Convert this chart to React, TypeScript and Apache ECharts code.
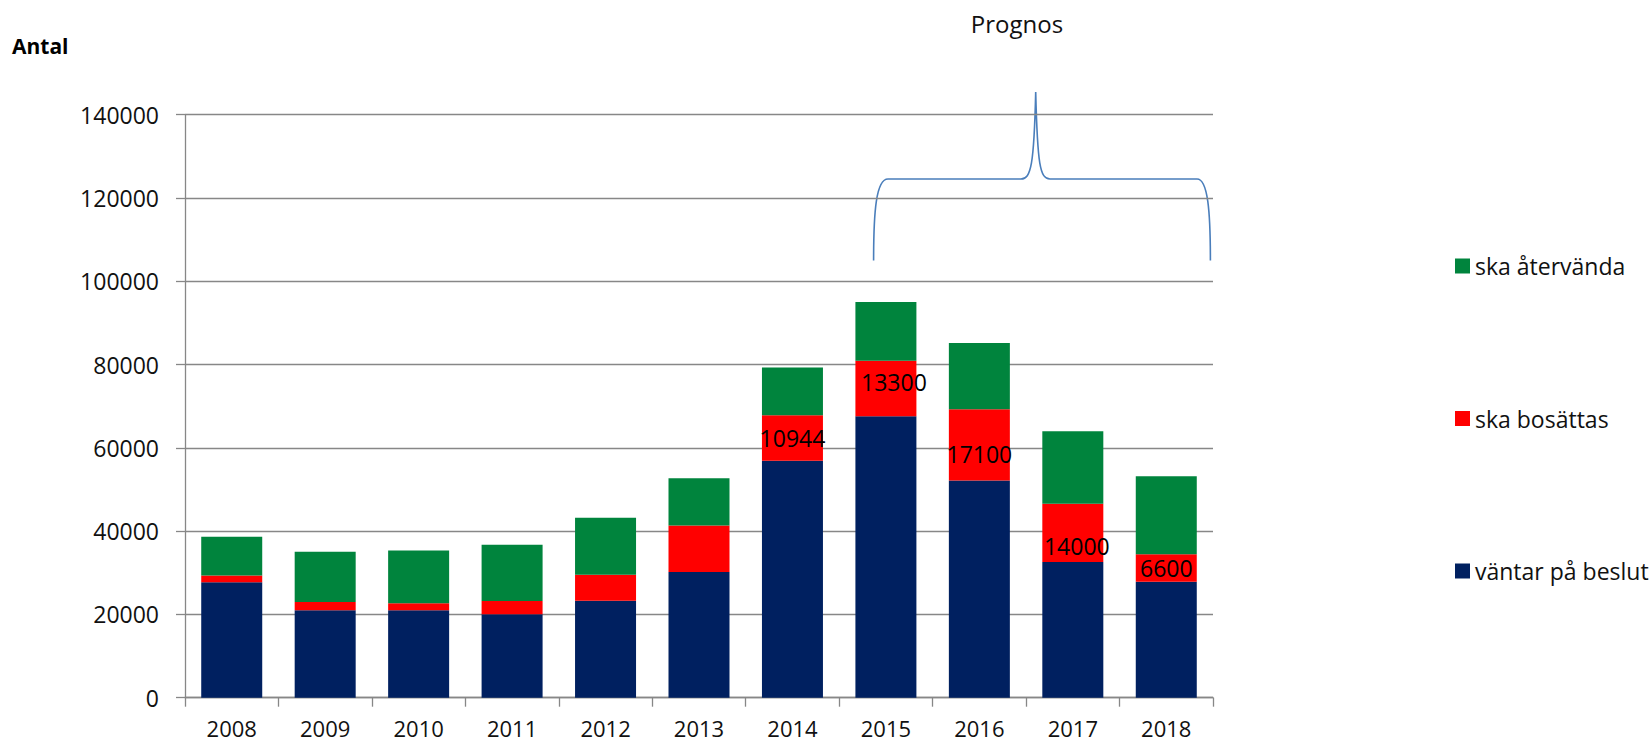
import React, { useEffect, useRef } from "react";
import * as echarts from "echarts";

const years = ["2008", "2009", "2010", "2011", "2012", "2013", "2014", "2015", "2016", "2017", "2018"];
const vantar = [27750, 21000, 21000, 20050, 23300, 30200, 56900, 67600, 52150, 32600, 27850];
const bosattas = [1600, 2000, 1700, 3150, 6200, 11150, 10944, 13300, 17100, 14000, 6600];
const atervanda = [9300, 12050, 12650, 13500, 13700, 11350, 11450, 14100, 15950, 17400, 18750];
const labelledYears = ["2014", "2015", "2016", "2017", "2018"];
const yTicks = { min: 0, max: 140000, interval: 20000 };

const FONT = "'Open Sans', 'Noto Sans', sans-serif";
const labelNudge: Record<string, [number, number]> = {
  "2014": [0, 0],
  "2015": [8, -7],
  "2016": [0, 9],
  "2017": [4, 13],
  "2018": [0, 0],
};

const braceD =
  "M 873.6 260.5 C 873.6 212 876 179 888 179 L 1021 179 C 1031 179 1034 165 1035.7 92 C 1037.5 165 1040 179 1050 179 L 1197 179 C 1208 179 1210.4 212 1210.4 260.5";

let registered = false;
function ensureShape() {
  if (registered) return;
  echarts.graphic.registerShape("brace", echarts.graphic.extendPath(braceD, {}) as any);
  registered = true;
}

export default function App() {
  const ref = useRef<HTMLDivElement>(null);
  useEffect(() => {
    if (!ref.current) return;
    ensureShape();
    const chart = echarts.init(ref.current, undefined, { renderer: "svg" });
    const gray = "#878787";
    chart.setOption({
      animation: false,
      backgroundColor: "#ffffff",
      textStyle: { fontFamily: FONT },
      grid: { left: 185, right: 437, top: 114.7, bottom: 44.3, containLabel: false },
      legend: {
        orient: "vertical",
        left: 1450,
        top: 249.5,
        itemWidth: 15,
        itemHeight: 15,
        itemGap: 129.5,
        icon: "rect",
        data: ["ska återvända", "ska bosättas", "väntar på beslut"],
        textStyle: { fontFamily: FONT, fontSize: 23, color: "#111111" },
        selectedMode: false,
      },
      xAxis: {
        type: "category",
        data: years,
        axisLine: { lineStyle: { color: gray, width: 1.3 } },
        axisTick: { show: true, length: 9, lineStyle: { color: gray, width: 1.3 } },
        axisLabel: { fontFamily: FONT, fontSize: 22, color: "#111111", margin: 18, lineHeight: 24 },
      },
      yAxis: {
        type: "value",
        min: yTicks.min,
        max: yTicks.max,
        interval: yTicks.interval,
        axisLine: { show: true, lineStyle: { color: gray, width: 1.3 } },
        axisTick: { show: true, length: 9, lineStyle: { color: gray, width: 1.3 } },
        axisLabel: {
          fontFamily: FONT,
          fontSize: 23,
          color: "#111111",
          margin: 26,
          formatter: (v: number) => String(v),
        },
        splitLine: { lineStyle: { color: gray, width: 1.3 } },
      },
      series: [
        {
          name: "väntar på beslut",
          type: "bar",
          stack: "total",
          barWidth: 61,
          itemStyle: { color: "#002060" },
          data: vantar,
        },
        {
          name: "ska bosättas",
          type: "bar",
          stack: "total",
          barWidth: 61,
          itemStyle: { color: "#ff0000" },
          data: bosattas.map((v, i) => {
            const y = years[i];
            if (labelledYears.indexOf(y) < 0) return v;
            return {
              value: v,
              label: {
                show: true,
                position: "inside",
                offset: labelNudge[y] || [0, 0],
                formatter: String(v),
                fontFamily: FONT,
                fontSize: 23,
                color: "#000000",
              },
            };
          }),
        },
        {
          name: "ska återvända",
          type: "bar",
          stack: "total",
          barWidth: 61,
          itemStyle: { color: "#00843d" },
          data: atervanda,
        },
      ],
      graphic: [
        {
          type: "text",
          left: 12,
          top: 35,
          style: { text: "Antal", fontFamily: FONT, fontSize: 21, fontWeight: "bold", fill: "#000000" },
        },
        {
          type: "text",
          x: 1017,
          y: 23,
          style: {
            text: "Prognos",
            fontFamily: FONT,
            fontSize: 24,
            fill: "#111111",
            align: "center",
            verticalAlign: "middle",
          },
        },
        {
          type: "brace",
          x: 0,
          y: 0,
          style: { fill: "none", stroke: "#4a7ebb", lineWidth: 1.6 },
        } as any,
      ],
    });
    return () => chart.dispose();
  }, []);
  return (
    <div
      ref={ref}
      style={{ position: "fixed", left: 0, top: 0, width: 1650, height: 742, background: "#fff" }}
    />
  );
}
